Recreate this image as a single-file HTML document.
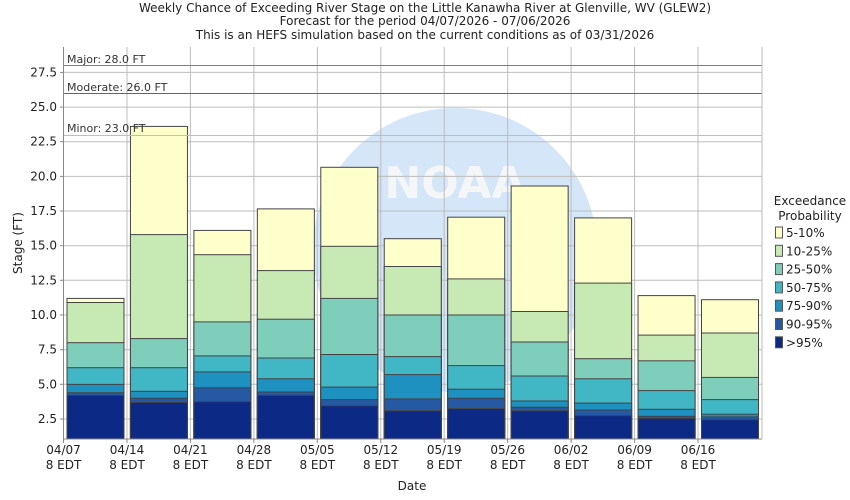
<!DOCTYPE html>
<html><head><style>body{margin:0;background:#fff}svg{display:block;font-family:"DejaVu Sans","Liberation Sans",sans-serif}</style></head><body>
<svg width="850" height="500" xmlns="http://www.w3.org/2000/svg">
<rect width="850" height="500" fill="#fff"/>
<g font-size="12" fill="#222" text-anchor="middle">
<text x="425" y="12">Weekly Chance of Exceeding River Stage on the Little Kanawha River at Glenville, WV (GLEW2)</text>
<text x="425" y="25">Forecast for the period 04/07/2026 - 07/06/2026</text>
<text x="425" y="39">This is an HEFS simulation based on the current conditions as of 03/31/2026</text>
</g>
<circle cx="455" cy="250" r="142" fill="#d4e6f8"/>
<text x="455" y="198" font-size="44" font-weight="bold" fill="#f4f6f8" text-anchor="middle">NOAA</text>
<g stroke="#bdbdbd" stroke-width="1">
<line x1="63.5" x2="762" y1="419" y2="419"/><line x1="63.5" x2="762" y1="384.3" y2="384.3"/><line x1="63.5" x2="762" y1="349.7" y2="349.7"/><line x1="63.5" x2="762" y1="315" y2="315"/><line x1="63.5" x2="762" y1="280.3" y2="280.3"/><line x1="63.5" x2="762" y1="245.7" y2="245.7"/><line x1="63.5" x2="762" y1="211" y2="211"/><line x1="63.5" x2="762" y1="176.4" y2="176.4"/><line x1="63.5" x2="762" y1="141.7" y2="141.7"/><line x1="63.5" x2="762" y1="107.1" y2="107.1"/><line x1="63.5" x2="762" y1="72.4" y2="72.4"/>
<line x1="127" x2="127" y1="47" y2="439"/><line x1="190.4" x2="190.4" y1="47" y2="439"/><line x1="253.9" x2="253.9" y1="47" y2="439"/><line x1="317.3" x2="317.3" y1="47" y2="439"/><line x1="380.8" x2="380.8" y1="47" y2="439"/><line x1="444.2" x2="444.2" y1="47" y2="439"/><line x1="507.7" x2="507.7" y1="47" y2="439"/><line x1="571.1" x2="571.1" y1="47" y2="439"/><line x1="634.6" x2="634.6" y1="47" y2="439"/><line x1="698" x2="698" y1="47" y2="439"/>
</g>
<g stroke="#444" stroke-width="1">
<g transform="translate(67,0)"><rect width="57" y="298.4" height="140.6" fill="#ffffcc"/><rect width="57" y="302.5" height="136.5" fill="#c7e9b4"/><rect width="57" y="342.7" height="96.3" fill="#7fcdbb"/><rect width="57" y="367.7" height="71.3" fill="#41b6c4"/><rect width="57" y="384.4" height="54.6" fill="#1f91c0"/><rect width="57" y="392.7" height="46.3" fill="#2559a3"/><rect width="57" y="395.4" height="43.6" fill="#0c2a85"/></g>
<g transform="translate(130.45,0)"><rect width="57" y="126.4" height="312.6" fill="#ffffcc"/><rect width="57" y="234.6" height="204.4" fill="#c7e9b4"/><rect width="57" y="338.6" height="100.4" fill="#7fcdbb"/><rect width="57" y="367.7" height="71.3" fill="#41b6c4"/><rect width="57" y="391.3" height="47.7" fill="#1f91c0"/><rect width="57" y="398.2" height="40.8" fill="#2559a3"/><rect width="57" y="402.4" height="36.6" fill="#0c2a85"/></g>
<g transform="translate(193.9,0)"><rect width="57" y="230.4" height="208.6" fill="#ffffcc"/><rect width="57" y="254.7" height="184.3" fill="#c7e9b4"/><rect width="57" y="321.9" height="117.1" fill="#7fcdbb"/><rect width="57" y="355.9" height="83.1" fill="#41b6c4"/><rect width="57" y="371.9" height="67.1" fill="#1f91c0"/><rect width="57" y="387.8" height="51.2" fill="#2559a3"/><rect width="57" y="401.7" height="37.3" fill="#0c2a85"/></g>
<g transform="translate(257.35,0)"><rect width="57" y="208.9" height="230.1" fill="#ffffcc"/><rect width="57" y="270.6" height="168.4" fill="#c7e9b4"/><rect width="57" y="319.2" height="119.8" fill="#7fcdbb"/><rect width="57" y="358" height="81" fill="#41b6c4"/><rect width="57" y="378.8" height="60.2" fill="#1f91c0"/><rect width="57" y="392" height="47" fill="#2559a3"/><rect width="57" y="395.4" height="43.6" fill="#0c2a85"/></g>
<g transform="translate(320.8,0)"><rect width="57" y="167.3" height="271.7" fill="#ffffcc"/><rect width="57" y="246.3" height="192.7" fill="#c7e9b4"/><rect width="57" y="298.4" height="140.6" fill="#7fcdbb"/><rect width="57" y="354.5" height="84.5" fill="#41b6c4"/><rect width="57" y="387.1" height="51.9" fill="#1f91c0"/><rect width="57" y="399.6" height="39.4" fill="#2559a3"/><rect width="57" y="405.8" height="33.2" fill="#0c2a85"/></g>
<g transform="translate(384.25,0)"><rect width="57" y="238.7" height="200.3" fill="#ffffcc"/><rect width="57" y="266.5" height="172.5" fill="#c7e9b4"/><rect width="57" y="315" height="124" fill="#7fcdbb"/><rect width="57" y="356.6" height="82.4" fill="#41b6c4"/><rect width="57" y="374.6" height="64.4" fill="#1f91c0"/><rect width="57" y="398.9" height="40.1" fill="#2559a3"/><rect width="57" y="410.7" height="28.3" fill="#0c2a85"/></g>
<g transform="translate(447.7,0)"><rect width="57" y="217.2" height="221.8" fill="#ffffcc"/><rect width="57" y="278.9" height="160.1" fill="#c7e9b4"/><rect width="57" y="315" height="124" fill="#7fcdbb"/><rect width="57" y="365.6" height="73.4" fill="#41b6c4"/><rect width="57" y="389.2" height="49.8" fill="#1f91c0"/><rect width="57" y="398.2" height="40.8" fill="#2559a3"/><rect width="57" y="408.6" height="30.4" fill="#0c2a85"/></g>
<g transform="translate(511.15,0)"><rect width="57" y="186" height="253" fill="#ffffcc"/><rect width="57" y="311.5" height="127.5" fill="#c7e9b4"/><rect width="57" y="342" height="97" fill="#7fcdbb"/><rect width="57" y="376" height="63" fill="#41b6c4"/><rect width="57" y="401" height="38" fill="#1f91c0"/><rect width="57" y="407.2" height="31.8" fill="#2559a3"/><rect width="57" y="410.7" height="28.3" fill="#0c2a85"/></g>
<g transform="translate(574.6,0)"><rect width="57" y="217.9" height="221.1" fill="#ffffcc"/><rect width="57" y="283.1" height="155.9" fill="#c7e9b4"/><rect width="57" y="358.7" height="80.3" fill="#7fcdbb"/><rect width="57" y="378.8" height="60.2" fill="#41b6c4"/><rect width="57" y="403.1" height="35.9" fill="#1f91c0"/><rect width="57" y="410" height="29" fill="#2559a3"/><rect width="57" y="415.6" height="23.4" fill="#0c2a85"/></g>
<g transform="translate(638.05,0)"><rect width="57" y="295.6" height="143.4" fill="#ffffcc"/><rect width="57" y="335.1" height="103.9" fill="#c7e9b4"/><rect width="57" y="360.8" height="78.2" fill="#7fcdbb"/><rect width="57" y="390.6" height="48.4" fill="#41b6c4"/><rect width="57" y="409.3" height="29.7" fill="#1f91c0"/><rect width="57" y="416.3" height="22.7" fill="#2559a3"/><rect width="57" y="418.3" height="20.7" fill="#0c2a85"/></g>
<g transform="translate(701.5,0)"><rect width="57" y="299.7" height="139.3" fill="#ffffcc"/><rect width="57" y="333" height="106" fill="#c7e9b4"/><rect width="57" y="377.4" height="61.6" fill="#7fcdbb"/><rect width="57" y="399.6" height="39.4" fill="#41b6c4"/><rect width="57" y="414.2" height="24.8" fill="#1f91c0"/><rect width="57" y="416.9" height="22.1" fill="#2559a3"/><rect width="57" y="419.7" height="19.3" fill="#0c2a85"/></g>
</g>
<line x1="63.5" x2="762" y1="65.5" y2="65.5" stroke="#d040e0"/>
<line x1="63.5" x2="762" y1="93.5" y2="93.5" stroke="#e03030"/>
<line x1="63.5" x2="762" y1="135.5" y2="135.5" stroke="#f0c030"/>
<g font-size="11" fill="#333"><text x="67" y="63">Major: 28.0 FT</text><text x="67" y="91">Moderate: 26.0 FT</text><text x="67" y="132">Minor: 23.0 FT</text></g>
<g stroke="#888"><line x1="63.5" x2="63.5" y1="47" y2="443"/><line x1="63.5" x2="762" y1="439" y2="439"/></g>
<line x1="762" x2="762" y1="47" y2="439" stroke="#bbb"/>
<g stroke="#888">
<line x1="60" x2="63.5" y1="419" y2="419"/><line x1="60" x2="63.5" y1="384.3" y2="384.3"/><line x1="60" x2="63.5" y1="349.7" y2="349.7"/><line x1="60" x2="63.5" y1="315" y2="315"/><line x1="60" x2="63.5" y1="280.3" y2="280.3"/><line x1="60" x2="63.5" y1="245.7" y2="245.7"/><line x1="60" x2="63.5" y1="211" y2="211"/><line x1="60" x2="63.5" y1="176.4" y2="176.4"/><line x1="60" x2="63.5" y1="141.7" y2="141.7"/><line x1="60" x2="63.5" y1="107.1" y2="107.1"/><line x1="60" x2="63.5" y1="72.4" y2="72.4"/>
<line x1="127" x2="127" y1="439" y2="443"/><line x1="190.4" x2="190.4" y1="439" y2="443"/><line x1="253.9" x2="253.9" y1="439" y2="443"/><line x1="317.3" x2="317.3" y1="439" y2="443"/><line x1="380.8" x2="380.8" y1="439" y2="443"/><line x1="444.2" x2="444.2" y1="439" y2="443"/><line x1="507.7" x2="507.7" y1="439" y2="443"/><line x1="571.1" x2="571.1" y1="439" y2="443"/><line x1="634.6" x2="634.6" y1="439" y2="443"/><line x1="698" x2="698" y1="439" y2="443"/>
</g>
<g font-size="12" fill="#222" text-anchor="end">
<text x="57" y="423">2.5</text><text x="57" y="388.3">5.0</text><text x="57" y="353.7">7.5</text><text x="57" y="319">10.0</text><text x="57" y="284.3">12.5</text><text x="57" y="249.7">15.0</text><text x="57" y="215">17.5</text><text x="57" y="180.4">20.0</text><text x="57" y="145.7">22.5</text><text x="57" y="111.1">25.0</text><text x="57" y="76.4">27.5</text>
</g>
<g font-size="12" fill="#222" text-anchor="middle">
<text x="63.5" y="454">04/07</text><text x="63.5" y="469">8 EDT</text>
<text x="127" y="454">04/14</text><text x="127" y="469">8 EDT</text>
<text x="190.4" y="454">04/21</text><text x="190.4" y="469">8 EDT</text>
<text x="253.9" y="454">04/28</text><text x="253.9" y="469">8 EDT</text>
<text x="317.3" y="454">05/05</text><text x="317.3" y="469">8 EDT</text>
<text x="380.8" y="454">05/12</text><text x="380.8" y="469">8 EDT</text>
<text x="444.2" y="454">05/19</text><text x="444.2" y="469">8 EDT</text>
<text x="507.7" y="454">05/26</text><text x="507.7" y="469">8 EDT</text>
<text x="571.1" y="454">06/02</text><text x="571.1" y="469">8 EDT</text>
<text x="634.6" y="454">06/09</text><text x="634.6" y="469">8 EDT</text>
<text x="698" y="454">06/16</text><text x="698" y="469">8 EDT</text>
<text x="412" y="490">Date</text>
<text transform="translate(22,243) rotate(-90)">Stage (FT)</text>
<text x="810" y="205">Exceedance</text><text x="810" y="220">Probability</text>
</g>
<g stroke="#555">
<rect x="775.5" y="227" width="7" height="11" fill="#ffffcc"/>
<rect x="775.5" y="245.3" width="7" height="11" fill="#c7e9b4"/>
<rect x="775.5" y="263.6" width="7" height="11" fill="#7fcdbb"/>
<rect x="775.5" y="281.9" width="7" height="11" fill="#41b6c4"/>
<rect x="775.5" y="300.2" width="7" height="11" fill="#1f91c0"/>
<rect x="775.5" y="318.5" width="7" height="11" fill="#2559a3"/>
<rect x="775.5" y="336.8" width="7" height="11" fill="#0c2a85"/>
</g>
<g font-size="12" fill="#222">
<text x="786" y="237">5-10%</text><text x="786" y="255.3">10-25%</text><text x="786" y="273.6">25-50%</text><text x="786" y="291.9">50-75%</text><text x="786" y="310.2">75-90%</text><text x="786" y="328.5">90-95%</text><text x="786" y="346.8">&gt;95%</text>
</g>
</svg>
</body></html>
